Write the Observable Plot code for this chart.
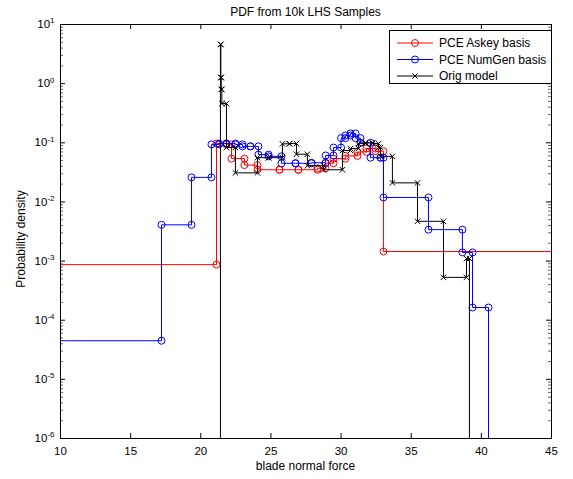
<!DOCTYPE html>
<html><head><meta charset="utf-8">
<script src="https://cdn.jsdelivr.net/npm/d3@7"></script>
<script src="https://cdn.jsdelivr.net/npm/@observablehq/plot@0.6"></script>
<style>
body{margin:0;background:#fff;}
#chart{position:relative;width:573px;height:479px;}
svg{font-family:"Liberation Sans",Arial,sans-serif;}
</style>
</head><body><div id="chart"></div>
<script>
// ---- data ----
const seriesNames = ["PCE Askey basis", "PCE NumGen basis", "Orig model"];
const seriesColors = ["#ff0000", "#0000ff", "#000000"];
const FLOOR = 1e-12; // density below the visible range (empty bins)

const askeyEdges   = [5, 21.12, 21.83, 22.19, 23.11, 24.04, 25.61, 26.96, 28.32, 28.89, 29.46, 30.31, 31.17, 31.81, 32.45, 33.02, 50];
const askeyDensity = [8.7e-4, 0.097, 0.094, 0.054, 0.042, 0.035, 0.035, 0.035, 0.037, 0.045, 0.054, 0.060, 0.070, 0.080, 0.072, 0.00145];

const numgenEdges   = [5, 17.20, 19.34, 20.76, 21.30, 21.83, 22.47, 22.97, 23.54, 24.11, 24.83, 25.75, 26.75, 27.89, 28.90, 29.46, 30.00, 30.31, 30.67, 31.03, 31.38, 32.10, 32.81, 33.02, 36.23, 38.65, 39.37, 40.51, 50];
const numgenDensity = [4.5e-5, 0.0041, 0.026, 0.094, 0.097, 0.097, 0.094, 0.087, 0.087, 0.063, 0.059, 0.045, 0.045, 0.046, 0.061, 0.083, 0.12, 0.133, 0.144, 0.12, 0.10, 0.056, 0.056, 0.0119, 0.0034, 0.0014, 1.64e-4, FLOOR];

const origEdges   = [5, 21.40, 21.43, 21.46, 21.50, 21.83, 22.47, 24.04, 24.83, 25.82, 26.32, 26.82, 27.60, 28.75, 30.10, 30.67, 31.24, 31.74, 32.24, 32.67, 32.81, 33.66, 35.45, 37.30, 38.94, 39.15, 50];
const origDensity = [FLOOR, 4.6, 1.27, 0.80, 0.46, 0.083, 0.031, 0.056, 0.056, 0.096, 0.097, 0.064, 0.041, 0.035, 0.074, 0.080, 0.097, 0.100, 0.097, 0.083, 0.059, 0.021, 0.0047, 5.3e-4, 0.0011, FLOOR];

const xTicks = [10, 15, 20, 25, 30, 35, 40, 45];
const yTicks = [1e-6, 1e-5, 1e-4, 1e-3, 1e-2, 1e-1, 1, 10];

const titleText = "PDF from 10k LHS Samples";
const xLabel = "blade normal force";
const yLabel = "Probability density";

// ---- build step (bin corner) points ----
function steps(name, edges, dens) {
  const pts = [];
  for (let i = 0; i < dens.length; i++) {
    pts.push({series: name, x: edges[i], y: dens[i]});
    pts.push({series: name, x: edges[i + 1], y: dens[i]});
  }
  return pts;
}
const askey = steps(seriesNames[0], askeyEdges, askeyDensity);
const numgen = steps(seriesNames[1], numgenEdges, numgenDensity);
const orig = steps(seriesNames[2], origEdges, origDensity);

const minorTicks = [];
for (let k = -6; k < 1; k++) for (let m = 2; m <= 9; m++) minorTicks.push(m * Math.pow(10, k));

const W = 573, H = 479, mL = 60, mR = 22, mT = 24, mB = 41;
const pw = W - mL - mR, ph = H - mT - mB;

const svg = Plot.plot({
  width: W, height: H,
  marginLeft: mL, marginRight: mR, marginTop: mT, marginBottom: mB,
  style: {fontFamily: '"Liberation Sans", Arial, sans-serif', fontSize: "11px", background: "#fff", color: "#000"},
  x: {domain: [10, 45]},
  y: {type: "log", domain: [1e-6, 10]},
  marks: [
    Plot.axisX({ticks: xTicks, tickSize: 0, tickPadding: 8, label: null, fontSize: 11.5}),
    Plot.axisY({ticks: yTicks, tickSize: 0, tickPadding: 6, label: null, fontSize: 11.5,
      tickFormat: d => "10|" + Math.round(Math.log10(d))}),
    // inward ticks (MATLAB style)
    Plot.tickX(xTicks, {x: d => d, insetTop: ph - 5, stroke: "#000"}),
    Plot.tickX(xTicks, {x: d => d, insetBottom: ph - 5, stroke: "#000"}),
    Plot.tickY(yTicks, {y: d => d, insetRight: pw - 5, stroke: "#000"}),
    Plot.tickY(yTicks, {y: d => d, insetLeft: pw - 5, stroke: "#000"}),
    Plot.tickY(minorTicks, {y: d => d, insetRight: pw - 3, stroke: "#000", strokeWidth: 0.6}),
    Plot.tickY(minorTicks, {y: d => d, insetLeft: pw - 3, stroke: "#000", strokeWidth: 0.6}),
    // series
    Plot.line(askey, {x: "x", y: "y", stroke: seriesColors[0], strokeWidth: 1, clip: true}),
    Plot.dot(askey, {x: "x", y: "y", stroke: seriesColors[0], symbol: "circle", r: 3.5, strokeWidth: 1, clip: true}),
    Plot.line(numgen, {x: "x", y: "y", stroke: seriesColors[1], strokeWidth: 1, clip: true}),
    Plot.dot(numgen, {x: "x", y: "y", stroke: seriesColors[1], symbol: "circle", r: 3.5, strokeWidth: 1, clip: true}),
    Plot.line(orig, {x: "x", y: "y", stroke: seriesColors[2], strokeWidth: 1, clip: true}),
    Plot.dot(orig, {x: "x", y: "y", stroke: seriesColors[2], symbol: "times", r: 2.6, strokeWidth: 1, clip: true}),
    Plot.frame({stroke: "#000", strokeWidth: 1})
  ]
});

// superscript exponents on log tick labels
const NS = "http://www.w3.org/2000/svg";
svg.querySelectorAll('g[aria-label="y-axis tick label"] text').forEach(t => {
  const parts = t.textContent.split("|");
  if (parts.length !== 2) return;
  t.textContent = "";
  const a = document.createElementNS(NS, "tspan"); a.textContent = parts[0]; t.appendChild(a);
  const b = document.createElementNS(NS, "tspan"); b.textContent = parts[1];
  b.setAttribute("dy", "-0.6em"); b.setAttribute("font-size", "8"); t.appendChild(b);
});

const s = d3.select(svg);
s.append("text").attr("x", mL + pw / 2).attr("y", 16).attr("text-anchor", "middle")
  .attr("font-size", 12).text(titleText);
s.append("text").attr("x", mL + pw / 2).attr("y", 470).attr("text-anchor", "middle")
  .attr("font-size", 12).text(xLabel);
s.append("text").attr("transform", `translate(25,${mT + ph / 2 + 8}) rotate(-90)`).attr("text-anchor", "middle")
  .attr("font-size", 12).text(yLabel);

// legend
const lg = s.append("g").attr("aria-label", "legend");
lg.append("rect").attr("x", 389.5).attr("y", 30.5).attr("width", 162).attr("height", 53)
  .attr("fill", "#fff").attr("stroke", "#000");
const symbols = ["circle", "circle", "times"];
seriesNames.forEach((name, i) => {
  const y = 43 + i * 16.5;
  lg.append("line").attr("x1", 397).attr("x2", 433).attr("y1", y).attr("y2", y)
    .attr("stroke", seriesColors[i]).attr("stroke-width", 1);
  if (symbols[i] === "circle") {
    lg.append("circle").attr("cx", 415).attr("cy", y).attr("r", 3.5)
      .attr("fill", "none").attr("stroke", seriesColors[i]);
  } else {
    lg.append("path").attr("d", d3.symbol(d3.symbolTimes, 20)()).attr("transform", `translate(415,${y})`)
      .attr("fill", "none").attr("stroke", seriesColors[i]);
  }
  lg.append("text").attr("x", 439).attr("y", y).attr("dy", "0.35em").attr("text-anchor", "start")
    .attr("font-size", 12).text(name);
});

document.getElementById("chart").appendChild(svg);
</script>
</body></html>
